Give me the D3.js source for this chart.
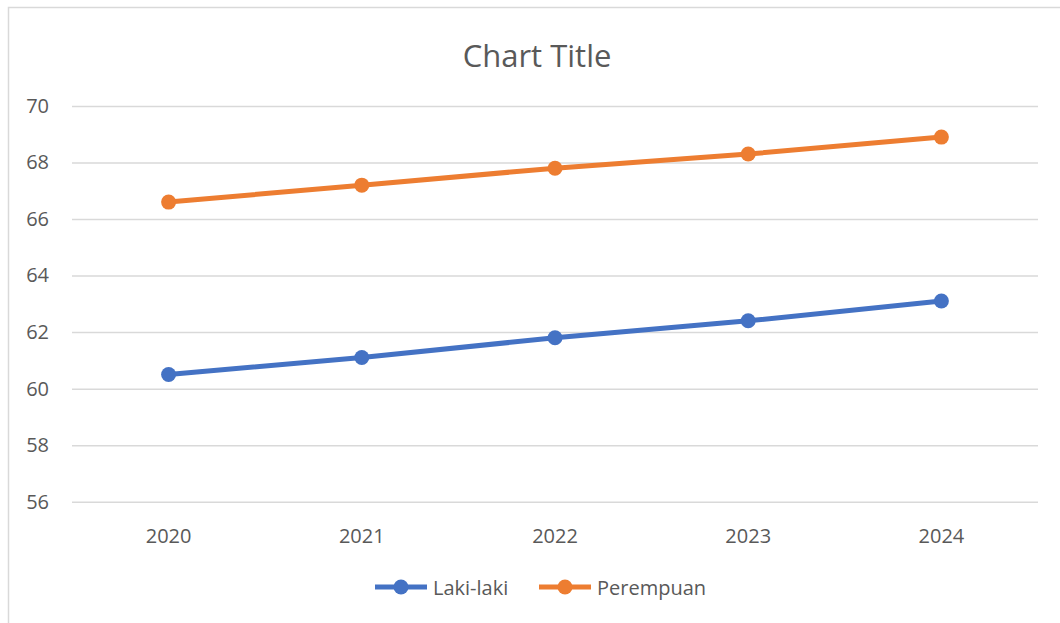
<!DOCTYPE html>
<html>
<head>
<meta charset="utf-8">
<script src="https://cdn.jsdelivr.net/npm/d3@7"></script>
<style>
  html, body { margin: 0; padding: 0; background: #fff; }
  svg { display: block; }
  text { font-family: "Open Sans", "Noto Sans", sans-serif; fill: #595959; }
</style>
</head>
<body>
<svg id="chart" width="1060" height="623"></svg>
<script>
const title = "Chart Title";
const years = ["2020", "2021", "2022", "2023", "2024"];
const lakiLaki = [60.5, 61.1, 61.8, 62.4, 63.1];
const perempuan = [66.6, 67.2, 67.8, 68.3, 68.9];
const yTicks = [56, 58, 60, 62, 64, 66, 68, 70];
const seriesNames = ["Laki-laki", "Perempuan"];
const seriesColors = ["#4472C4", "#ED7D31"];

const series = [
  { name: seriesNames[0], values: lakiLaki, color: seriesColors[0] },
  { name: seriesNames[1], values: perempuan, color: seriesColors[1] }
];

const svg = d3.select("#chart");

// chart border
svg.append("rect")
  .attr("x", 8.5).attr("y", 7.5)
  .attr("width", 1080).attr("height", 640)
  .attr("fill", "#fff")
  .attr("stroke", "#D9D9D9")
  .attr("stroke-width", 1.5);

const x = d3.scaleBand().domain(years).range([72, 1038]);
const y = d3.scaleLinear().domain([56, 70]).range([501.7, 106]);

// title
svg.append("text")
  .attr("x", 537).attr("y", 55)
  .attr("text-anchor", "middle")
  .attr("dominant-baseline", "central")
  .style("font-size", "31px")
  .text(title);

// gridlines
const yAxis = d3.axisLeft(y).tickValues(yTicks).tickSize(-(1038 - 72)).tickPadding(24).tickFormat(d3.format("d"));
const gy = svg.append("g").attr("transform", "translate(72,0)").call(yAxis);
gy.select(".domain").remove();
gy.selectAll(".tick line").attr("stroke", "#D9D9D9").attr("stroke-width", 1.5);
gy.selectAll(".tick text").style("font-size", "20px").attr("fill", "#595959")
  .attr("font-family", null).attr("x", -23);

// x axis labels
const xAxis = d3.axisBottom(x).tickSize(0).tickPadding(24);
const gx = svg.append("g").attr("transform", "translate(0,510)").call(xAxis);
gx.select(".domain").remove();
gx.selectAll(".tick text").style("font-size", "20px").attr("fill", "#595959")
  .attr("font-family", null).attr("y", 0)
  .attr("dy", null).attr("dominant-baseline", "central")
  .attr("transform", "translate(0,25)");

// lines
const line = d3.line()
  .x((d, i) => x(years[i]) + x.bandwidth() / 2)
  .y(d => y(d));

series.forEach(s => {
  svg.append("path")
    .datum(s.values)
    .attr("d", line)
    .attr("fill", "none")
    .attr("stroke", s.color)
    .attr("stroke-width", 5)
    .attr("stroke-linecap", "round");
  svg.selectAll(null)
    .data(s.values)
    .enter().append("circle")
    .attr("cx", (d, i) => x(years[i]) + x.bandwidth() / 2)
    .attr("cy", d => y(d))
    .attr("r", 7.5)
    .attr("fill", s.color);
});

// legend
const legendX = [375, 539];
const legendY = 587;
series.forEach((s, i) => {
  const g = svg.append("g").attr("transform", `translate(${legendX[i]},${legendY})`);
  g.append("line").attr("x1", 0).attr("x2", 52).attr("y1", 0).attr("y2", 0)
    .attr("stroke", s.color).attr("stroke-width", 5);
  g.append("circle").attr("cx", 26).attr("cy", 0).attr("r", 7.5).attr("fill", s.color);
  g.append("text").attr("x", 58).attr("y", 0)
    .attr("dominant-baseline", "central")
    .style("font-size", "20px")
    .text(s.name);
});
</script>
</body>
</html>
